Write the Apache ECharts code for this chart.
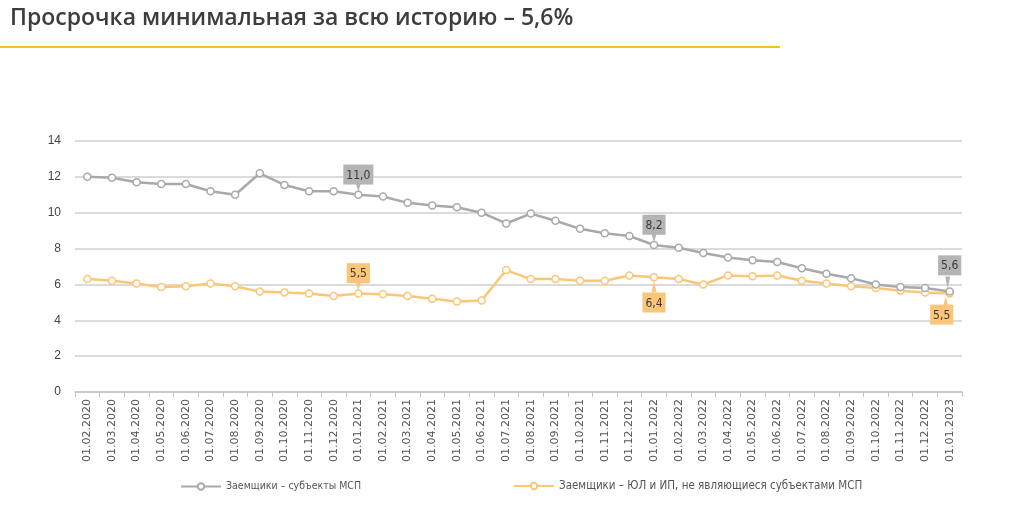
<!DOCTYPE html>
<html style="height: 100%; margin: 0">
<head>
<meta charset="UTF-8">
<title>Просрочка</title>
<script src="https://cdn.jsdelivr.net/npm/echarts@6/dist/echarts.min.js"></script>
</head>
<body style="height: 100%; margin: 0; background: #fff">
<div id="container" style="width:1024px; height:519px"></div>
<script type="text/javascript">
	var months = ['01.02.2020','01.03.2020','01.04.2020','01.05.2020','01.06.2020','01.07.2020','01.08.2020','01.09.2020',
		'01.10.2020','01.11.2020','01.12.2020','01.01.2021','01.02.2021','01.03.2021','01.04.2021','01.05.2021',
		'01.06.2021','01.07.2021','01.08.2021','01.09.2021','01.10.2021','01.11.2021','01.12.2021','01.01.2022',
		'01.02.2022','01.03.2022','01.04.2022','01.05.2022','01.06.2022','01.07.2022','01.08.2022','01.09.2022',
		'01.10.2022','01.11.2022','01.12.2022','01.01.2023'];
	// Заемщики – субъекты МСП
	var msp = [12.0, 11.95, 11.7, 11.6, 11.6, 11.2, 11.0, 12.2, 11.55, 11.2, 11.2, 11.0,
		10.9, 10.55, 10.4, 10.3, 10.0, 9.4, 9.95, 9.55, 9.1, 8.85, 8.7, 8.2,
		8.05, 7.75, 7.5, 7.35, 7.25, 6.9, 6.6, 6.35, 6.0, 5.85, 5.8, 5.6];
	// Заемщики – ЮЛ и ИП, не являющиеся субъектами МСП
	var nonMsp = [6.3, 6.2, 6.05, 5.85, 5.9, 6.05, 5.9, 5.6, 5.55, 5.5, 5.35, 5.5,
		5.45, 5.35, 5.2, 5.05, 5.1, 6.8, 6.3, 6.3, 6.2, 6.2, 6.5, 6.4,
		6.3, 6.0, 6.5, 6.45, 6.5, 6.2, 6.05, 5.9, 5.8, 5.65, 5.55, 5.5];
	// подписанные точки: индекс -> положение подписи
	var mspMarks = {11: 'top', 23: 'top', 35: 'top'};
	var nonMspMarks = {11: 'top', 23: 'bottom', 35: 'bottom'};
	var yTicks = [0, 2, 4, 6, 8, 10, 12, 14];
	var names = ['Заемщики – субъекты МСП', 'Заемщики – ЮЛ и ИП, не являющиеся субъектами МСП'];

	var GRAY = '#a9a9a9', GRAY_BOX = '#b4b4b4';
	var ORANGE = '#fcc677', ORANGE_BOX = '#fbc57a';
	var narrow = 'Liberation Sans Narrow, DejaVu Sans Condensed, sans-serif';

	var fmt = function (v) { return v.toFixed(1).replace('.', ','); };

	function buildData(values, marks, boxColor) {
		return values.map(function (v, i) {
			var pos = marks[i];
			if (!pos) return v;
			var last = i === values.length - 1;
			var dist = pos === 'top' ? (last ? 12 : 6) : (last ? 7 : 11);
			return {
				value: v,
				label: {
					show: true,
					position: pos,
					distance: dist,
					offset: (last && pos === 'bottom') ? [-8, 0] : [0, 0],
					formatter: fmt(v),
					backgroundColor: boxColor,
					color: '#3a3a3a',
					fontSize: 12,
					fontFamily: narrow,
					padding: [5, 3, 3, 3]
				}
			};
		});
	}

	// хвостики выносок
	function buildTails(values, marks, color) {
		return Object.keys(marks).map(function (k) {
			var i = +k;
			var pos = marks[i];
			var last = i === values.length - 1;
			var h = pos === 'top' ? (last ? 12 : 8) : (last ? 9 : 12);
			var off = pos === 'top' ? -(3 + h / 2) : (3 + h / 2);
			return {
				coord: [i, values[i]],
				symbol: 'triangle',
				symbolSize: [5, h],
				symbolRotate: pos === 'top' ? 180 : 0,
				symbolOffset: [last ? (pos === 'top' ? -2 : -4) : 0, off],
				itemStyle: {color: color},
				label: {show: false}
			};
		});
	}

	var dom = document.getElementById("container");
	var myChart = echarts.init(dom);
	var option = {
		backgroundColor: '#fff',
		animation: false,
		title: {
			text: 'Просрочка минимальная за всю историю – 5,6%',
			left: 5,
			top: 2,
			textStyle: {
				color: '#3d3d3d',
				fontSize: 23,
				fontWeight: 600,
				fontFamily: 'Open Sans, sans-serif'
			}
		},
		graphic: [{
			type: 'rect',
			left: 0,
			top: 46,
			shape: {width: 780, height: 2},
			style: {fill: '#f6c416'}
		}],
		legend: [{
			bottom: 22,
			left: 175,
			itemWidth: 40,
			itemHeight: 8,
			textStyle: {color: '#555', fontSize: 10.5, fontFamily: narrow},
			data: [names[0]]
		}, {
			bottom: 22,
			left: 508,
			itemWidth: 40,
			itemHeight: 8,
			textStyle: {color: '#555', fontSize: 11.5, fontFamily: narrow},
			data: [names[1]]
		}],
		grid: {
			left: 75,
			right: 62,
			top: 141,
			bottom: 127
		},
		xAxis: {
			type: 'category',
			data: months,
			boundaryGap: true,
			axisLine: {lineStyle: {color: '#c4c4c4', width: 1.5}},
			axisTick: {show: true, length: 5, lineStyle: {color: '#c4c4c4'}},
			axisLabel: {
				rotate: 90,
				interval: 0,
				color: '#555',
				fontSize: 11,
				margin: 7,
				fontFamily: 'DejaVu Sans, sans-serif'
			}
		},
		yAxis: {
			type: 'value',
			min: yTicks[0],
			max: yTicks[yTicks.length - 1],
			interval: 2,
			axisLine: {show: false},
			axisTick: {show: false},
			axisLabel: {color: '#444', fontSize: 12, margin: 14},
			splitLine: {lineStyle: {color: '#cfcfcf', width: 1.5}}
		},
		series: [
			{
				name: names[0],
				type: 'line',
				data: buildData(msp, mspMarks, GRAY_BOX),
				symbol: 'circle',
				symbolSize: 7,
				lineStyle: {color: GRAY, width: 2.5},
				itemStyle: {color: '#fff', borderColor: GRAY, borderWidth: 1.5},
				markPoint: {silent: true, data: buildTails(msp, mspMarks, GRAY_BOX)},
				z: 3
			},
			{
				name: names[1],
				type: 'line',
				data: buildData(nonMsp, nonMspMarks, ORANGE_BOX),
				symbol: 'circle',
				symbolSize: 7,
				lineStyle: {color: ORANGE, width: 2.5},
				itemStyle: {color: '#fff', borderColor: ORANGE, borderWidth: 1.5},
				markPoint: {silent: true, data: buildTails(nonMsp, nonMspMarks, ORANGE_BOX)},
				z: 2
			}
		]
	};
	myChart.setOption(option, true);
</script>
</body>
</html>
